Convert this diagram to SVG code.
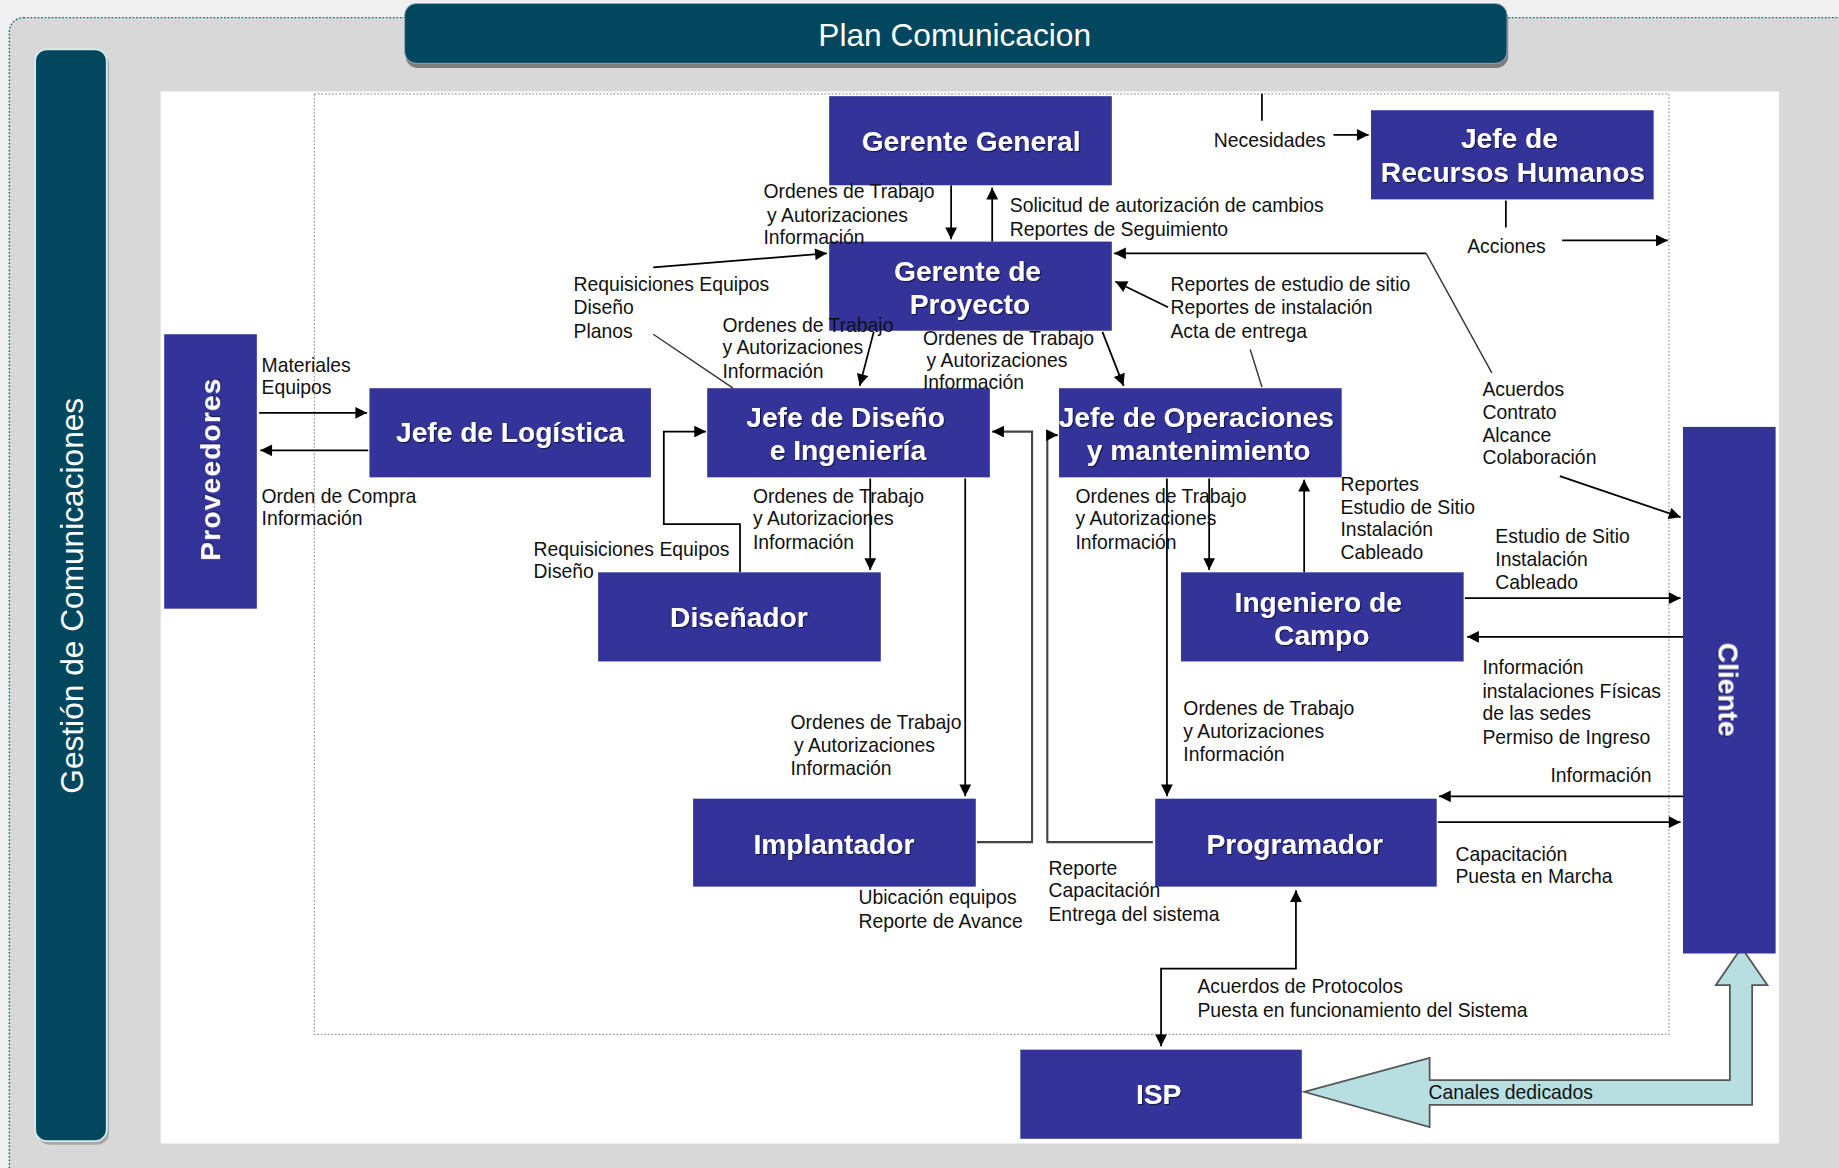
<svg xmlns="http://www.w3.org/2000/svg" width="1839" height="1168" viewBox="0 0 1839 1168">
<defs>
<style>
.node{fill:#333399}
.nt{font-family:"Liberation Sans",Arial,sans-serif;font-weight:bold;font-size:24px;fill:#fff;text-anchor:middle;filter:url(#ts)}
.lb{font-family:"Liberation Sans",Arial,sans-serif;font-size:16.5px;fill:#111}
.cn{fill:none;stroke:#000;stroke-width:1.5}
.gr{fill:none;stroke:#444;stroke-width:1.8}
.ln{fill:none;stroke:#333;stroke-width:1.2}
.ar{marker-end:url(#ah)}
</style>
<marker id="ah" viewBox="0 0 10 10" refX="10" refY="5" markerWidth="11" markerHeight="10" markerUnits="userSpaceOnUse" orient="auto-start-reverse">
<path d="M0,0 L10,5 L0,10 z" fill="#000"/>
</marker>
<filter id="ts" x="-10%" y="-10%" width="120%" height="130%">
<feDropShadow dx="1" dy="1" stdDeviation="0.6" flood-color="#000" flood-opacity="0.55"/>
</filter>
</defs>
<g transform="scale(1.1728)">
<g id="background">
<rect x="0" y="0" width="1570" height="1000" fill="#f0f0f0"/>
<rect x="8" y="15" width="1600" height="1000" rx="12" fill="#d8d8d8" stroke="#1e6b6b" stroke-width="1.2" stroke-dasharray="1.5,1.5"/>
<rect x="137" y="78" width="1380" height="897" fill="#ffffff"/>
<rect x="268" y="80" width="1155" height="802" fill="none" stroke="#9a9a9a" stroke-width="1" stroke-dasharray="1.5,1.5"/>
</g>
<g id="title">
<rect x="346" y="6" width="940" height="52" rx="10" fill="#7d7d7d"/>
<rect x="345" y="3" width="940" height="51" rx="10" fill="#02475e" stroke="#9ab" stroke-width="0.8"/>
<text x="814" y="39" font-family="'Liberation Sans',Arial,sans-serif" font-size="27" fill="#fff" text-anchor="middle">Plan Comunicacion</text>
</g>
<g id="side">
<rect x="32" y="45" width="61" height="931" rx="10" fill="#8a8a8a" opacity="0.6"/>
<rect x="30" y="42" width="61" height="931" rx="10" fill="#02475e" stroke="#d4eef0" stroke-width="1.5"/>
<text transform="translate(62,508) rotate(-90)" y="9" font-family="'Liberation Sans',Arial,sans-serif" font-size="27" fill="#fff" text-anchor="middle">Gestión de Comunicaciones</text>
</g>
<g id="connectors">
<path class="cn ar" d="M811,158 L811,204"/>
<path class="cn ar" d="M846,206 L846,160"/>
<path class="cn" d="M1076,80 L1076,103"/>
<path class="cn ar" d="M1137,115 L1167,115"/>
<path class="cn" d="M1284,171 L1284,194"/>
<path class="cn ar" d="M1332,205 L1422,205"/>
<path class="cn ar" d="M1216,216 L950,216"/>
<path class="ln" d="M1216,216 L1272,318"/>
<path class="cn ar" d="M1330,406 L1433,441"/>
<path class="cn ar" d="M996,262 L951,240"/>
<path class="ln" d="M1076,330 L1066,298"/>
<path class="cn ar" d="M557,228 L705,216"/>
<path class="ln" d="M557,285 L625,331"/>
<path class="cn ar" d="M745,283 L733,329"/>
<path class="cn ar" d="M940,283 L958,329"/>
<path class="cn ar" d="M221,352 L313,352"/>
<path class="cn ar" d="M314,384 L222,384"/>
<path class="cn ar" d="M631,488 L631,447 L566,447 L566,368 L602,368"/>
<path class="cn ar" d="M742,408 L742,486"/>
<path class="cn ar" d="M823,408 L823,679"/>
<path class="gr ar" d="M833,718 L880,718 L880,368 L846,368"/>
<path class="gr ar" d="M983,718 L893,718 L893,371 L902,371"/>
<path class="cn ar" d="M995,408 L995,679"/>
<path class="cn ar" d="M1031,408 L1031,486"/>
<path class="cn ar" d="M1112,488 L1112,409"/>
<path class="cn ar" d="M1249,510 L1433,510"/>
<path class="cn ar" d="M1435,543 L1251,543"/>
<path class="cn ar" d="M1435,679 L1227,679"/>
<path class="cn ar" d="M1226,701 L1433,701"/>
<path class="cn ar" d="M1105,759 L1105,826 L990,826 L990,892" marker-start="url(#ah)"/>
<polygon points="1112,931 1219,902 1219,921 1475,921 1475,840 1463,840 1485,808 1507,840 1494,840 1494,942 1219,942 1219,961" fill="#b7dfe2" stroke="#555" stroke-width="1.5"/>
</g>
<g id="gerente-general"><rect class="node" x="707" y="82" width="241" height="76"/><text class="nt" x="828" y="129">Gerente General</text></g>
<g id="jefe-rrhh"><rect class="node" x="1169" y="94" width="241" height="76"/><text class="nt" x="1287" y="126">Jefe de</text><text class="nt" x="1290" y="155">Recursos Humanos</text></g>
<g id="gerente-proyecto"><rect class="node" x="707" y="206" width="241" height="76"/><text class="nt" x="825" y="240">Gerente de</text><text class="nt" x="827" y="268">Proyecto</text></g>
<g id="proveedores"><rect class="node" x="140" y="285" width="79" height="234"/><text class="nt" transform="translate(180,400) rotate(-90)" y="8" letter-spacing="1">Proveedores</text></g>
<g id="jefe-logistica"><rect class="node" x="315" y="331" width="240" height="76"/><text class="nt" x="435" y="377">Jefe de Logística</text></g>
<g id="jefe-diseno"><rect class="node" x="603" y="331" width="241" height="76"/><text class="nt" x="721" y="364">Jefe de Diseño</text><text class="nt" x="723" y="392">e Ingeniería</text></g>
<g id="jefe-operaciones"><rect class="node" x="903" y="331" width="241" height="76"/><text class="nt" x="1020" y="364">Jefe de Operaciones</text><text class="nt" x="1022" y="392">y mantenimiento</text></g>
<g id="disenador"><rect class="node" x="510" y="488" width="241" height="76"/><text class="nt" x="630" y="535">Diseñador</text></g>
<g id="ingeniero-campo"><rect class="node" x="1007" y="488" width="241" height="76"/><text class="nt" x="1124" y="522">Ingeniero de</text><text class="nt" x="1127" y="550">Campo</text></g>
<g id="implantador"><rect class="node" x="591" y="681" width="241" height="75"/><text class="nt" x="711" y="728">Implantador</text></g>
<g id="programador"><rect class="node" x="985" y="681" width="240" height="75"/><text class="nt" x="1104" y="728">Programador</text></g>
<g id="cliente"><rect class="node" x="1435" y="364" width="79" height="449"/><text class="nt" transform="translate(1473,588) rotate(90)" y="8" font-weight="normal">Cliente</text></g>
<g id="isp"><rect class="node" x="870" y="895" width="240" height="76"/><text class="nt" x="988" y="941">ISP</text></g>
<g id="labels">
<text class="lb" x="651" y="169">Ordenes de Trabajo</text>
<text class="lb" x="654" y="189">y Autorizaciones</text>
<text class="lb" x="651" y="208">Información</text>
<text class="lb" x="861" y="181">Solicitud de autorización de cambios</text>
<text class="lb" x="861" y="201">Reportes de Seguimiento</text>
<text class="lb" x="1035" y="125">Necesidades</text>
<text class="lb" x="1251" y="216">Acciones</text>
<text class="lb" x="489" y="248">Requisiciones Equipos</text>
<text class="lb" x="489" y="268">Diseño</text>
<text class="lb" x="489" y="288">Planos</text>
<text class="lb" x="616" y="283">Ordenes de Trabajo</text>
<text class="lb" x="616" y="302">y Autorizaciones</text>
<text class="lb" x="616" y="322">Información</text>
<text class="lb" x="787" y="294">Ordenes de Trabajo</text>
<text class="lb" x="790" y="313">y Autorizaciones</text>
<text class="lb" x="787" y="332">Información</text>
<text class="lb" x="998" y="248">Reportes de estudio de sitio</text>
<text class="lb" x="998" y="268">Reportes de instalación</text>
<text class="lb" x="998" y="288">Acta de entrega</text>
<text class="lb" x="1264" y="338">Acuerdos</text>
<text class="lb" x="1264" y="357">Contrato</text>
<text class="lb" x="1264" y="377">Alcance</text>
<text class="lb" x="1264" y="396">Colaboración</text>
<text class="lb" x="223" y="317">Materiales</text>
<text class="lb" x="223" y="336">Equipos</text>
<text class="lb" x="223" y="429">Orden de Compra</text>
<text class="lb" x="223" y="448">Información</text>
<text class="lb" x="642" y="429">Ordenes de Trabajo</text>
<text class="lb" x="642" y="448">y Autorizaciones</text>
<text class="lb" x="642" y="468">Información</text>
<text class="lb" x="455" y="474">Requisiciones Equipos</text>
<text class="lb" x="455" y="493">Diseño</text>
<text class="lb" x="917" y="429">Ordenes de Trabajo</text>
<text class="lb" x="917" y="448">y Autorizaciones</text>
<text class="lb" x="917" y="468">Información</text>
<text class="lb" x="1143" y="419">Reportes</text>
<text class="lb" x="1143" y="438">Estudio de Sitio</text>
<text class="lb" x="1143" y="457">Instalación</text>
<text class="lb" x="1143" y="477">Cableado</text>
<text class="lb" x="1275" y="463">Estudio de Sitio</text>
<text class="lb" x="1275" y="483">Instalación</text>
<text class="lb" x="1275" y="502">Cableado</text>
<text class="lb" x="1264" y="575">Información</text>
<text class="lb" x="1264" y="595">instalaciones Físicas</text>
<text class="lb" x="1264" y="614">de las sedes</text>
<text class="lb" x="1264" y="634">Permiso de Ingreso</text>
<text class="lb" x="1322" y="667">Información</text>
<text class="lb" x="674" y="622">Ordenes de Trabajo</text>
<text class="lb" x="677" y="641">y Autorizaciones</text>
<text class="lb" x="674" y="661">Información</text>
<text class="lb" x="1009" y="610">Ordenes de Trabajo</text>
<text class="lb" x="1009" y="629">y Autorizaciones</text>
<text class="lb" x="1009" y="649">Información</text>
<text class="lb" x="1241" y="734">Capacitación</text>
<text class="lb" x="1241" y="753">Puesta en Marcha</text>
<text class="lb" x="732" y="771">Ubicación equipos</text>
<text class="lb" x="732" y="791">Reporte de Avance</text>
<text class="lb" x="894" y="746">Reporte</text>
<text class="lb" x="894" y="765">Capacitación</text>
<text class="lb" x="894" y="785">Entrega del sistema</text>
<text class="lb" x="1021" y="847">Acuerdos de Protocolos</text>
<text class="lb" x="1021" y="867">Puesta en funcionamiento del Sistema</text>
<text class="lb" x="1218" y="937">Canales dedicados</text>
</g>
</g>
</svg>
